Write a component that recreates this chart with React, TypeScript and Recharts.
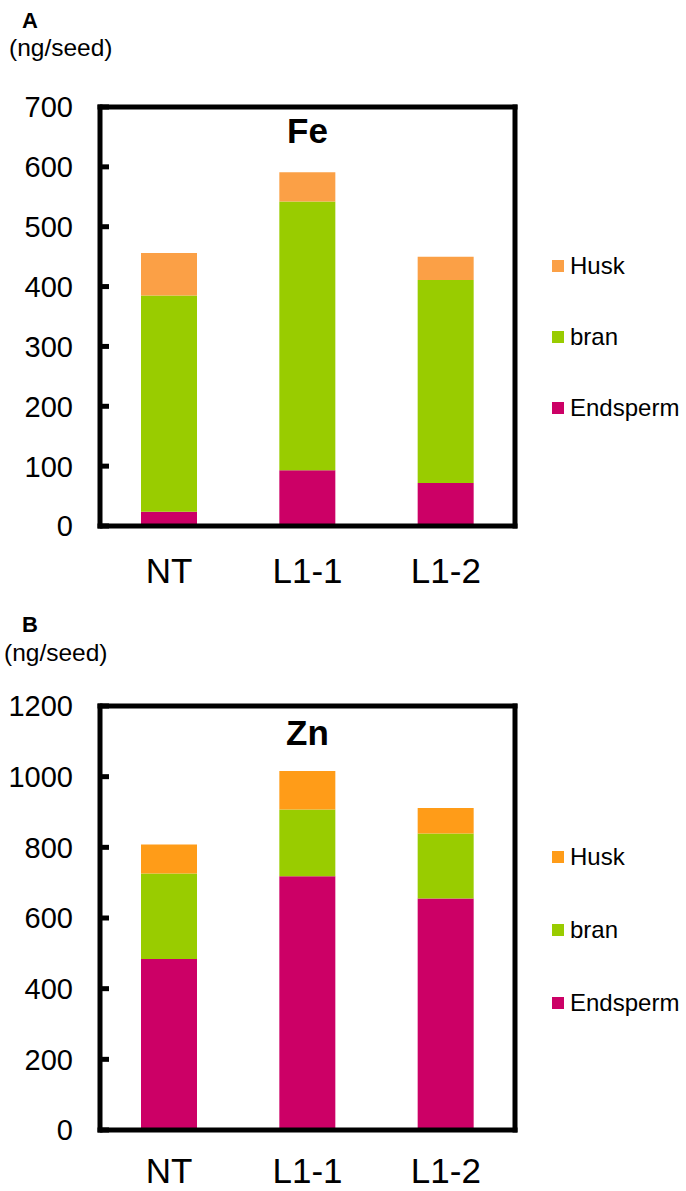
import React from "react";
import { BarChart, Bar, XAxis, YAxis, Legend } from "recharts";

const categories = ["NT", "L1-1", "L1-2"];
const legendOrder = ["Husk", "bran", "Endsperm"];

const feEndsperm = [24, 93, 72];
const feBran = [361, 449, 339];
const feHusk = [71, 49, 39];
const feTicks = [0, 100, 200, 300, 400, 500, 600, 700];

const znEndsperm = [484, 718, 655];
const znBran = [242, 189, 184];
const znHusk = [82, 109, 72];
const znTicks = [0, 200, 400, 600, 800, 1000, 1200];

const FONT = "'Liberation Sans', Arial, sans-serif";
const BORDER = { stroke: "#000", strokeWidth: 5, strokeLinecap: "square" as const };

function YTick({ x = 0, y = 0, payload }: { x?: number; y?: number; payload?: { value: number } }) {
  return (
    <g>
      <line x1={x} x2={x + 9} y1={y} y2={y} stroke="#000" strokeWidth={5} />
      <text x={x - 27} y={y} dy="0.36em" textAnchor="end" fill="#000" fontSize={29} fontFamily={FONT}>
        {payload?.value}
      </text>
    </g>
  );
}

function XTick({ x = 0, y = 0, payload, off = 57 }: { x?: number; y?: number; payload?: { value: string }; off?: number }) {
  return (
    <text x={x} y={y + off} textAnchor="middle" fill="#000" fontSize={35} fontFamily={FONT}>
      {payload?.value}
    </text>
  );
}

function LegendBox({ payload, step }: { payload?: any[]; step: number }) {
  const items = [...(payload ?? [])].sort(
    (a, b) => legendOrder.indexOf(a.value) - legendOrder.indexOf(b.value)
  );
  return (
    <div style={{ fontFamily: FONT }}>
      {items.map((p, i) => (
        <div key={i} style={{ display: "flex", alignItems: "center", height: 24, marginBottom: i < items.length - 1 ? step - 24 : 0 }}>
          <span style={{ width: 12, height: 12, background: p.color, marginRight: 6, display: "inline-block" }} />
          <span style={{ fontSize: 24, lineHeight: "24px", color: "#000" }}>{p.value}</span>
        </div>
      ))}
    </div>
  );
}

interface PanelProps {
  top: number;
  height: number;
  letter: string;
  letterTop: number;
  unitTop: number;
  unitLeft: number;
  title: string;
  titleTop: number;
  endsperm: number[];
  bran: number[];
  husk: number[];
  huskColor: string;
  ticks: number[];
  boxTop: number;
  boxBottom: number;
  labelOff: number;
  legendTop: number;
  legendStep: number;
}

function Panel(p: PanelProps) {
  const data = categories.map((c, i) => ({
    name: c,
    Endsperm: p.endsperm[i],
    bran: p.bran[i],
    Husk: p.husk[i],
  }));
  const max = p.ticks[p.ticks.length - 1];
  return (
    <div style={{ position: "absolute", left: 0, top: p.top, width: 686, height: p.height }}>
      <div style={{ position: "absolute", left: 15, width: 30, top: p.letterTop, textAlign: "center", fontFamily: FONT, fontWeight: "bold", fontSize: 22, lineHeight: 1 }}>
        {p.letter}
      </div>
      <div style={{ position: "absolute", left: p.unitLeft, top: p.unitTop, fontFamily: FONT, fontSize: 24.5, lineHeight: 1, whiteSpace: "nowrap" }}>
        (ng/seed)
      </div>
      <div style={{ position: "absolute", left: 207.5, width: 200, top: p.titleTop, textAlign: "center", fontFamily: FONT, fontWeight: "bold", fontSize: 35, lineHeight: 1, zIndex: 2 }}>
        {p.title}
      </div>
      <BarChart
        width={686}
        height={p.height}
        data={data}
        margin={{ top: p.boxTop - 1, right: 170, left: 0, bottom: p.height - p.boxBottom - 60 }}
        barSize={56}
      >
        <Bar dataKey="Endsperm" stackId="a" fill="#CC0066" isAnimationActive={false} />
        <Bar dataKey="bran" stackId="a" fill="#99CC00" isAnimationActive={false} />
        <Bar dataKey="Husk" stackId="a" fill={p.huskColor} isAnimationActive={false} />
        <XAxis dataKey="name" height={60} tickSize={0} tickMargin={0} tickLine={false} axisLine={BORDER} tick={<XTick off={p.labelOff} />} interval={0} />
        <XAxis xAxisId="top" dataKey="name" orientation="top" height={1} tickSize={0} tick={false} tickLine={false} axisLine={BORDER} />
        <YAxis
          type="number"
          domain={[0, max]}
          ticks={p.ticks}
          interval={0}
          width={100}
          tickSize={0}
          tickMargin={0}
          tickLine={false}
          axisLine={BORDER}
          tick={<YTick />}
        />
        <YAxis yAxisId="right" orientation="right" type="number" domain={[0, max]} width={1} tickSize={0} tick={false} tickLine={false} axisLine={BORDER} />
        <Legend
          layout="vertical"
          align="center"
          verticalAlign="middle"
          content={(props: any) => <LegendBox payload={props.payload} step={p.legendStep} />}
          wrapperStyle={{ position: "absolute", left: 552, top: p.legendTop, width: 134, height: "auto" }}
        />
      </BarChart>
    </div>
  );
}

export default function App() {
  return (
    <div style={{ position: "absolute", left: 0, top: 0, width: 686, height: 1191, background: "#fff" }}>
      <Panel
        top={0}
        height={600}
        letter="A"
        letterTop={10}
        unitTop={36}
        unitLeft={9}
        title="Fe"
        titleTop={113}
        endsperm={feEndsperm}
        bran={feBran}
        husk={feHusk}
        huskColor="#FBA046"
        ticks={feTicks}
        boxTop={107}
        boxBottom={526}
        labelOff={57}
        legendTop={254}
        legendStep={71}
      />
      <Panel
        top={600}
        height={591}
        letter="B"
        letterTop={14}
        unitTop={41}
        unitLeft={4}
        title="Zn"
        titleTop={115}
        endsperm={znEndsperm}
        bran={znBran}
        husk={znHusk}
        huskColor="#FF9C18"
        ticks={znTicks}
        boxTop={106}
        boxBottom={530}
        labelOff={53}
        legendTop={245}
        legendStep={73}
      />
    </div>
  );
}
